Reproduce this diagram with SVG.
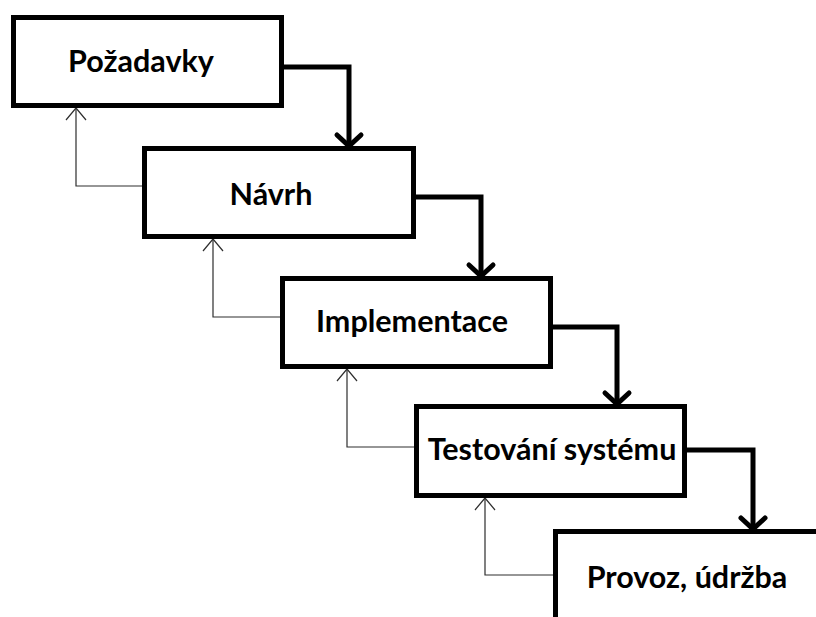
<svg xmlns="http://www.w3.org/2000/svg" width="816" height="617" viewBox="0 0 816 617">
  <style>
    .box { fill: #ffffff; stroke: #000000; stroke-width: 5; }
    .label { font-family: Lato, "Open Sans", "Liberation Sans", sans-serif; font-weight: bold; font-size: 30.5px; fill: #000000; text-anchor: middle; }
    .flow { fill: none; stroke: #000000; stroke-width: 5; stroke-linejoin: miter; }
    .back { fill: none; stroke: #2e2e2e; stroke-width: 1.2; }
  </style>
  <defs>
    <marker id="thick-head" markerUnits="userSpaceOnUse" viewBox="-16 -16 20 32" markerWidth="20" markerHeight="32" refX="0" refY="0" orient="auto">
      <path d="M -11 -12 L 0 0 L -11 12" fill="none" stroke="#000000" stroke-width="5" stroke-linecap="round"/>
    </marker>
    <marker id="thin-head" markerUnits="userSpaceOnUse" viewBox="-14 -12 16 24" markerWidth="16" markerHeight="24" refX="0" refY="0" orient="auto">
      <path d="M -12 -10 L 0 0 L -12 10" fill="none" stroke="#2e2e2e" stroke-width="1.2"/>
    </marker>
  </defs>
  <rect width="816" height="617" fill="#ffffff"/>

  <!-- connectors: forward flow (thick) and feedback (thin) -->
  <g id="connectors">
    <path class="flow" d="M 284 67 H 349 V 146" marker-end="url(#thick-head)"/>
    <path class="flow" d="M 416 197 H 481 V 276" marker-end="url(#thick-head)"/>
    <path class="flow" d="M 553 327 H 617 V 404" marker-end="url(#thick-head)"/>
    <path class="flow" d="M 687 450 H 753 V 529" marker-end="url(#thick-head)"/>
    <path class="back" d="M 142 186 H 76 V 108" marker-end="url(#thin-head)"/>
    <path class="back" d="M 280 317 H 213 V 239" marker-end="url(#thin-head)"/>
    <path class="back" d="M 414 447 H 347 V 369" marker-end="url(#thin-head)"/>
    <path class="back" d="M 553 575 H 485 V 498" marker-end="url(#thin-head)"/>
  </g>

  <g id="pozadavky">
    <rect class="box" x="13.5" y="17.5" width="268" height="88"/>
    <text class="label" x="141" y="72">Požadavky</text>
  </g>
  <g id="navrh">
    <rect class="box" x="144.5" y="148.5" width="269" height="88"/>
    <text class="label" x="271" y="205">Návrh</text>
  </g>
  <g id="implementace">
    <rect class="box" x="282.5" y="278.5" width="268" height="88"/>
    <text class="label" x="412" y="332">Implementace</text>
  </g>
  <g id="testovani">
    <rect class="box" x="416.5" y="406.5" width="268" height="89"/>
    <text class="label" x="552" y="460">Testování systému</text>
  </g>
  <g id="provoz">
    <rect class="box" x="555.5" y="531.5" width="300" height="150"/>
    <text class="label" x="687" y="588">Provoz, údržba</text>
  </g>
</svg>
